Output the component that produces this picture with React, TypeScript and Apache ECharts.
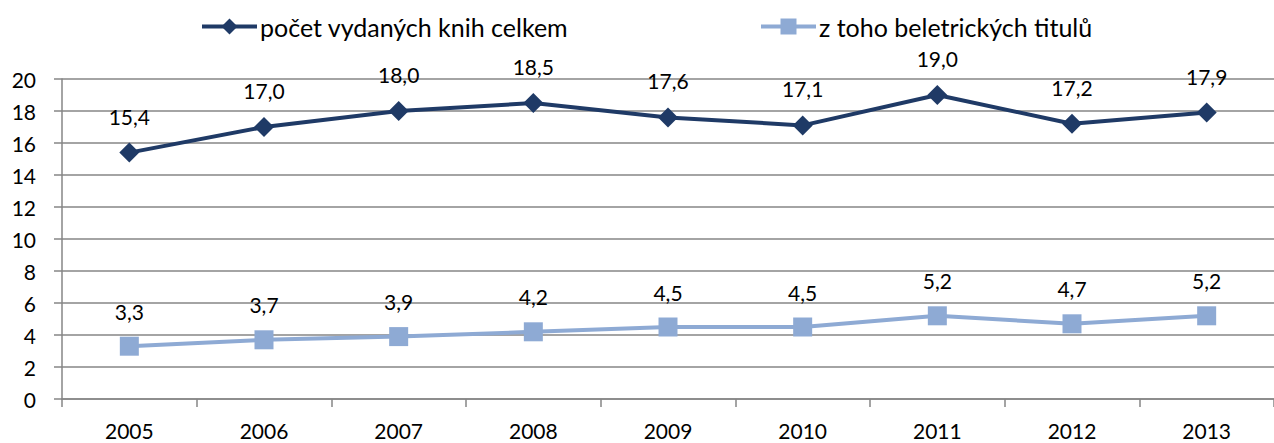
import React, { useEffect, useRef } from "react";
import * as echarts from "echarts";

const categories = ["2005", "2006", "2007", "2008", "2009", "2010", "2011", "2012", "2013"];
const totalBooks = [15.4, 17.0, 18.0, 18.5, 17.6, 17.1, 19.0, 17.2, 17.9];
const fictionTitles = [3.3, 3.7, 3.9, 4.2, 4.5, 4.5, 5.2, 4.7, 5.2];
const seriesNames = ["počet vydaných knih celkem", "z toho beletrických titulů"];

const FONT = "Lato, 'Open Sans', sans-serif";
const fmt = (v: number) => v.toFixed(1).replace(".", ",");

export default function App() {
  const ref = useRef<HTMLDivElement>(null);
  useEffect(() => {
    if (!ref.current) return;
    const chart = echarts.init(ref.current, undefined, { renderer: "svg" });
    const legendCommon = {
      top: 14,
      padding: 0,
      itemWidth: 55,
      itemHeight: 20,
      itemGap: 4,
      lineStyle: { width: 4 },
      textStyle: { fontFamily: FONT, fontSize: 25, color: "#000", padding: [0, 0, 0, -2] },
    };
    chart.setOption({
      animation: false,
      backgroundColor: "#ffffff",
      textStyle: { fontFamily: FONT },
      legend: [
        { ...legendCommon, data: [seriesNames[0]], left: 200 },
        { ...legendCommon, data: [seriesNames[1]], left: 759 },
      ],
      grid: { left: 62, right: -11, top: 79, bottom: 44, containLabel: false },
      xAxis: {
        type: "category",
        data: categories,
        boundaryGap: true,
        axisLine: { lineStyle: { color: "#868686", width: 1.5 } },
        axisTick: { show: true, length: 8, lineStyle: { color: "#868686", width: 1.5 } },
        axisLabel: { fontFamily: FONT, fontSize: 21, color: "#000", margin: 21 },
      },
      yAxis: {
        type: "value",
        min: 0,
        max: 20,
        interval: 2,
        axisLine: { show: true, lineStyle: { color: "#868686", width: 1.5 } },
        axisTick: { show: true, length: 8, lineStyle: { color: "#868686", width: 1.5 } },
        axisLabel: { fontFamily: FONT, fontSize: 21, color: "#000", margin: 26 },
        splitLine: { lineStyle: { color: "#868686", width: 1.5 } },
      },
      series: [
        {
          name: seriesNames[0],
          type: "line",
          data: totalBooks,
          color: "#1f3a66",
          lineStyle: { width: 4, color: "#1f3a66" },
          symbol: "diamond",
          symbolSize: 20,
          itemStyle: { color: "#1f3a66" },
          label: {
            show: true,
            position: "top",
            distance: 16,
            fontFamily: FONT,
            fontSize: 21,
            color: "#000",
            formatter: (p: any) => fmt(p.value),
          },
        },
        {
          name: seriesNames[1],
          type: "line",
          data: fictionTitles,
          color: "#8eaad4",
          lineStyle: { width: 4, color: "#8eaad4" },
          symbol: "rect",
          symbolSize: 19,
          itemStyle: { color: "#8eaad4" },
          label: {
            show: true,
            position: "top",
            distance: 15,
            fontFamily: FONT,
            fontSize: 21,
            color: "#000",
            formatter: (p: any) => fmt(p.value),
          },
        },
      ],
    });
    return () => chart.dispose();
  }, []);
  return (
    <div
      ref={ref}
      style={{ position: "fixed", left: 0, top: 0, width: 1274, height: 443 }}
    />
  );
}
